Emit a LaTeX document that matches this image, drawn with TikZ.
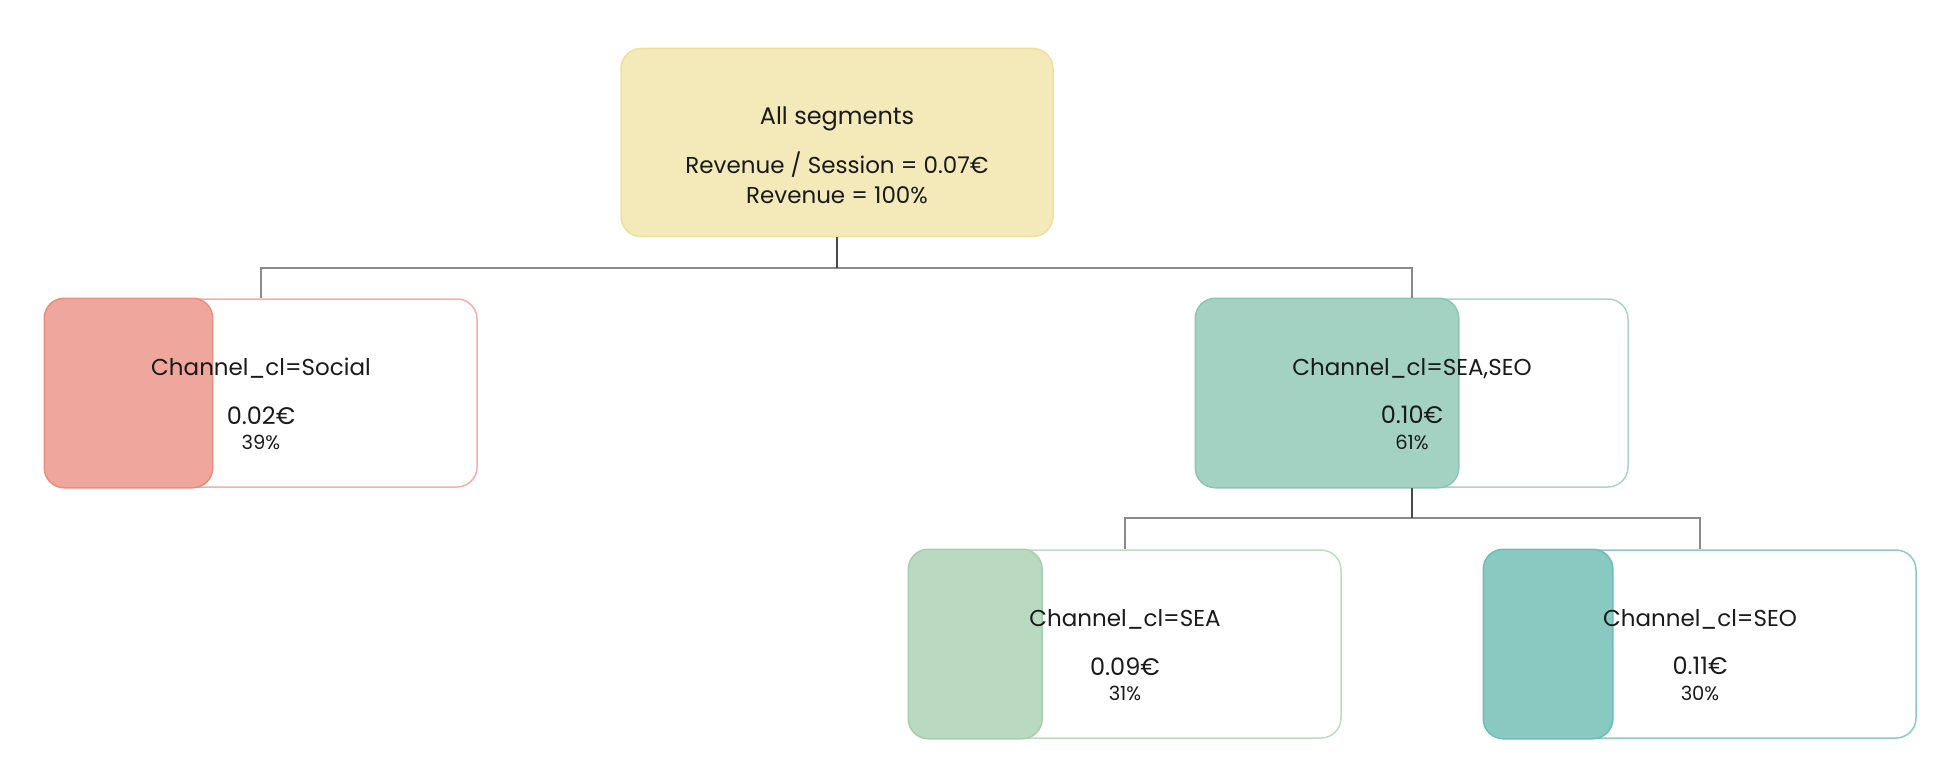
\documentclass[tikz,border=0pt]{standalone}
\usepackage{fontspec}
\setmainfont{Poppins}
\usepackage{tikz}
\usetikzlibrary{positioning,calc}
\definecolor{sandfill}{HTML}{F3E9B9}
\definecolor{sandline}{HTML}{EEE09E}
\definecolor{barsoc}{HTML}{EFA79D}
\definecolor{linesoc}{HTML}{EA8C7E}
\definecolor{edgesoc}{HTML}{F3AFA3}
\definecolor{barmix}{HTML}{A3D2C2}
\definecolor{linemix}{HTML}{8CC6B2}
\definecolor{edgemix}{HTML}{A9D5C7}
\definecolor{barsea}{HTML}{B9D9C0}
\definecolor{linesea}{HTML}{A6CFB0}
\definecolor{edgesea}{HTML}{BCDBC3}
\definecolor{barseo}{HTML}{88CAC2}
\definecolor{lineseo}{HTML}{6DBDB3}
\definecolor{edgeseo}{HTML}{8CCBC3}
\definecolor{stemgray}{HTML}{4A4A4A}
\definecolor{branchgray}{HTML}{8A8A8A}
\definecolor{inktext}{HTML}{1A1A1A}

\begin{document}
\begin{tikzpicture}[x=1pt,y=-1pt,
  segbox/.style={draw, line width=1.5pt, rounded corners=20pt, minimum width=432pt, minimum height=188pt, inner sep=0pt},
  rootbox/.style={segbox, fill=sandfill, draw=sandline},
  headtxt/.style={font=\fontsize{23}{27}\selectfont, text=inktext, inner sep=0pt},
  valtxt/.style={font=\fontsize{24}{28}\selectfont, text=inktext, inner sep=0pt},
  sharetxt/.style={font=\fontsize{19.5}{23}\selectfont, text=inktext, inner sep=0pt},
  stem/.style={stemgray, line width=2pt},
  branch/.style={branchgray, line width=2pt}]
  \useasboundingbox (0,0) rectangle (1956,776);
  % root segment
  \node[rootbox] (root) at (837,142.5) {};
  \node[headtxt, font=\fontsize{24}{28}\selectfont] (root-t) at ([yshift=-71pt]root.north) {All segments};
  \node[headtxt] (root-r) at ([yshift=-117pt]root.north) {Revenue / Session = 0.07€};
  \node[headtxt] (root-s) at ([yshift=-147pt]root.north) {Revenue = 100\%};
  % child segments, bar width = revenue share
  \foreach \n/\x/\y/\lab/\val/\pct/\col in {soc/261/393/Social/0.02/39/soc, mix/1412/393/{SEA,SEO}/0.10/61/mix, sea/1125/644/SEA/0.09/31/sea, seo/1700/644/SEO/0.11/30/seo}{
    \node[segbox, draw=edge\col] (\n) at (\x,\y) {};
    \filldraw[fill=bar\col, draw=line\col, line width=1.5pt, rounded corners=20pt]
      (\n.north west) rectangle ([xshift={4.32*\pct}]\n.south west);
    \node[headtxt] (\n-t) at ([yshift=-70pt]\n.north) {Channel\_cl=\lab};
    \node[valtxt] (\n-v) at ([yshift=-117pt]\n.north) {\val€};
    \node[sharetxt] (\n-p) at ([yshift=-144pt]\n.north) {\pct\%};
  }
  % splits
  \coordinate (split1) at (837,268);
  \coordinate (split2) at (1412,518);
  \draw[branch] (soc.north) |- (split1) -| (mix.north);
  \draw[stem] (root.south) -- (split1);
  \draw[branch] (sea.north) |- (split2) -| (seo.north);
  \draw[stem] (mix.south) -- (split2);
\end{tikzpicture}
\end{document}
